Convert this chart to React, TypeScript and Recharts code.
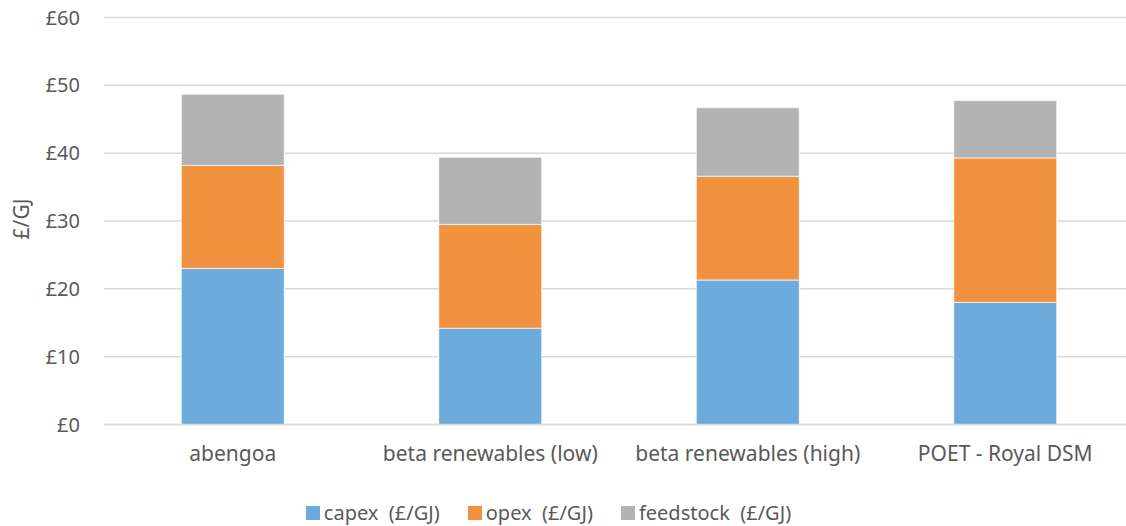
import React from 'react';
import { BarChart, Bar, XAxis, YAxis, CartesianGrid, Legend } from 'recharts';

// Levelised cost breakdown per producer (£/GJ)
const categories = ['abengoa', 'beta renewables (low)', 'beta renewables (high)', 'POET - Royal DSM'];
const capex = [23.0, 14.2, 21.3, 18.0];
const opex = [15.2, 15.3, 15.3, 21.3];
const feedstock = [10.5, 9.9, 10.1, 8.45];
const yTicks = [0, 10, 20, 30, 40, 50, 60];

const seriesKeys = ['capex', 'opex', 'feedstock'];
const seriesNames: Record<string, string> = {
  capex: 'capex  (£/GJ)',
  opex: 'opex  (£/GJ)',
  feedstock: 'feedstock  (£/GJ)',
};
const seriesColors: Record<string, string> = {
  capex: '#6CABDB',
  opex: '#F19240',
  feedstock: '#B3B3B3',
};

const data = categories.map((name, i) => ({
  name,
  capex: capex[i],
  opex: opex[i],
  feedstock: feedstock[i],
}));

const FONT = '"Noto Sans", "Open Sans", sans-serif';
const TEXT = '#595959';

const LegendContent = (props: any) => {
  const items = [...(props.payload || [])].sort(
    (a: any, b: any) => seriesKeys.indexOf(a.dataKey) - seriesKeys.indexOf(b.dataKey)
  );
  return (
    <div
      style={{
        display: 'flex',
        justifyContent: 'center',
        gap: 28,
        fontFamily: FONT,
        fontSize: 20,
        lineHeight: '26px',
        color: TEXT,
        whiteSpace: 'pre',
      }}
    >
      {items.map((it: any) => (
        <div key={it.dataKey} style={{ display: 'flex', alignItems: 'center' }}>
          <span
            style={{
              display: 'inline-block',
              width: 14,
              height: 14,
              background: it.color,
              marginRight: 4,
            }}
          />
          <span>{it.value}</span>
        </div>
      ))}
    </div>
  );
};

export default function App() {
  return (
    <div style={{ position: 'absolute', left: 0, top: 0, width: 1126, height: 526, overflow: 'hidden', background: '#fff' }}>
      <BarChart
        width={1134}
        height={526}
        data={data}
        margin={{ top: 17.5, right: 0, bottom: 0, left: 0 }}
        barCategoryGap="30%"
      >
        <CartesianGrid vertical={false} stroke="#D9D9D9" strokeWidth={1.5} />
        <XAxis
          dataKey="name"
          height={75.5}
          tickLine={false}
          axisLine={{ stroke: '#D9D9D9', strokeWidth: 1.5 }}
          tickSize={0}
          tickMargin={22}
          interval={0}
          tick={{ fill: TEXT, fontSize: 21, fontFamily: FONT }}
        />
        <YAxis
          width={104}
          domain={[0, 60]}
          ticks={yTicks}
          tickFormatter={(v: number) => `£${v}`}
          tickLine={false}
          axisLine={false}
          tickSize={0}
          tickMargin={24}
          tick={{ fill: TEXT, fontSize: 20, fontFamily: FONT }}
          label={{
            value: '£/GJ',
            angle: -90,
            position: 'center',
            dx: -30,
            dy: -2,
            fill: TEXT,
            fontSize: 21,
            fontFamily: FONT,
          }}
        />
        <Legend
          verticalAlign="bottom"
          content={<LegendContent />}
          wrapperStyle={{ left: 0, width: 1097, height: 26, bottom: 0 }}
        />
        {seriesKeys.map((k) => (
          <Bar
            key={k}
            dataKey={k}
            name={seriesNames[k]}
            stackId="a"
            fill={seriesColors[k]}
            stroke="#ffffff"
            strokeWidth={0.75}
            isAnimationActive={false}
          />
        ))}
      </BarChart>
    </div>
  );
}
